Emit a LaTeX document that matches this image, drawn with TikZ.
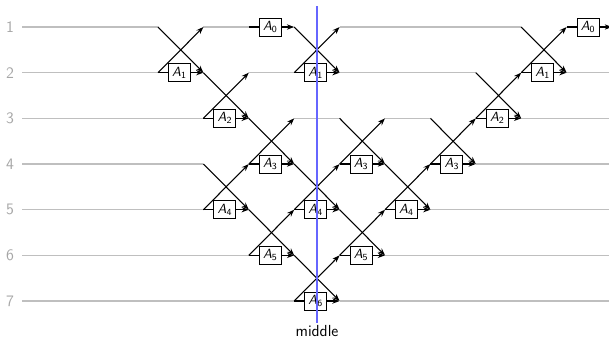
\documentclass[tikz,border=0pt]{standalone}
\usetikzlibrary{arrows.meta}
\begin{document}
\begin{tikzpicture}[x=0.75pt,y=-0.75pt,
  wire/.style={gray!50,line width=0.8pt},
  stub/.style={black,line width=0.8pt},
  link/.style={black,line width=0.8pt,-{Stealth[length=5.5pt,width=4pt]}},
  abox/.style={draw,line width=0.7pt,fill=white,minimum width=16.5pt,minimum height=13.5pt,inner sep=0pt,anchor=west,font=\sffamily\normalsize},
  rowlab/.style={text=gray!70,font=\sffamily\fontsize{12}{14}\selectfont},
  midline/.style={blue!60,line width=1pt}]
\useasboundingbox (0,0) rectangle (609,340);
% grid points
\foreach \k in {0,...,10}{
  \foreach \i in {1,...,7}{
    \coordinate (p\k-\i) at ({158+45.4*\k},{27+45.67*(\i-1)});
  }
}
\foreach \i in {1,...,7}{
  \coordinate (s\i) at (22,{27+45.67*(\i-1)});
  \coordinate (e\i) at (612,{27+45.67*(\i-1)});
  \node[rowlab] (l\i) at (10,{27+45.67*(\i-1)}) {\i};
}
% idle wires
\draw[wire] (s1) -- (p0-1) (p1-1) -- (p2-1) (p4-1) -- (p8-1);
\draw[wire] (s2) -- (p0-2) (p2-2) -- (p3-2) (p4-2) -- (p7-2) (p9-2) -- (e2);
\draw[wire] (s3) -- (p1-3) (p3-3) -- (p4-3) (p5-3) -- (p6-3) (p8-3) -- (e3);
\draw[wire] (s4) -- (p1-4) (p7-4) -- (e4);
\draw[wire] (s5) -- (p1-5) (p6-5) -- (e5);
\draw[wire] (s6) -- (p2-6) (p5-6) -- (e6);
\draw[wire] (s7) -- (p3-7) (p4-7) -- (e7);
% crossing blocks
\foreach \k/\i in {0/1,1/2,3/1,2/3,1/4,2/5,3/6,3/4,4/3,4/5,5/4,6/3,7/2,8/1}{
  \pgfmathtruncatemacro\j{\i+1}
  \pgfmathtruncatemacro\kk{\k+1}
  \draw[link] (p\k-\i) -- (p\kk-\j);
  \draw[link] (p\k-\j) -- (p\kk-\i);
  \node[abox] (b\k-\i) at ([xshift=7.5pt]p\k-\j) {\textsl{A}\textsubscript{\i}};
  \draw[stub] (p\k-\j) -- (b\k-\i);
  \draw[link] (b\k-\i) -- (p\kk-\j);
}
% single A0 steps
\foreach \k in {2,9}{
  \pgfmathtruncatemacro\kk{\k+1}
  \node[abox] (z\k) at ([xshift=7.5pt]p\k-1) {\textsl{A}\textsubscript{0}};
  \draw[stub] (p\k-1) -- (z\k);
  \draw[link] (z\k) -- (p\kk-1);
}
% middle marker
\coordinate (mtop) at (317,6);
\node[font=\sffamily\fontsize{12}{14}\selectfont,inner sep=1.5pt] (mid) at (317,331) {middle};
\draw[midline] (mtop) -- (mid.north);
\end{tikzpicture}
\end{document}
